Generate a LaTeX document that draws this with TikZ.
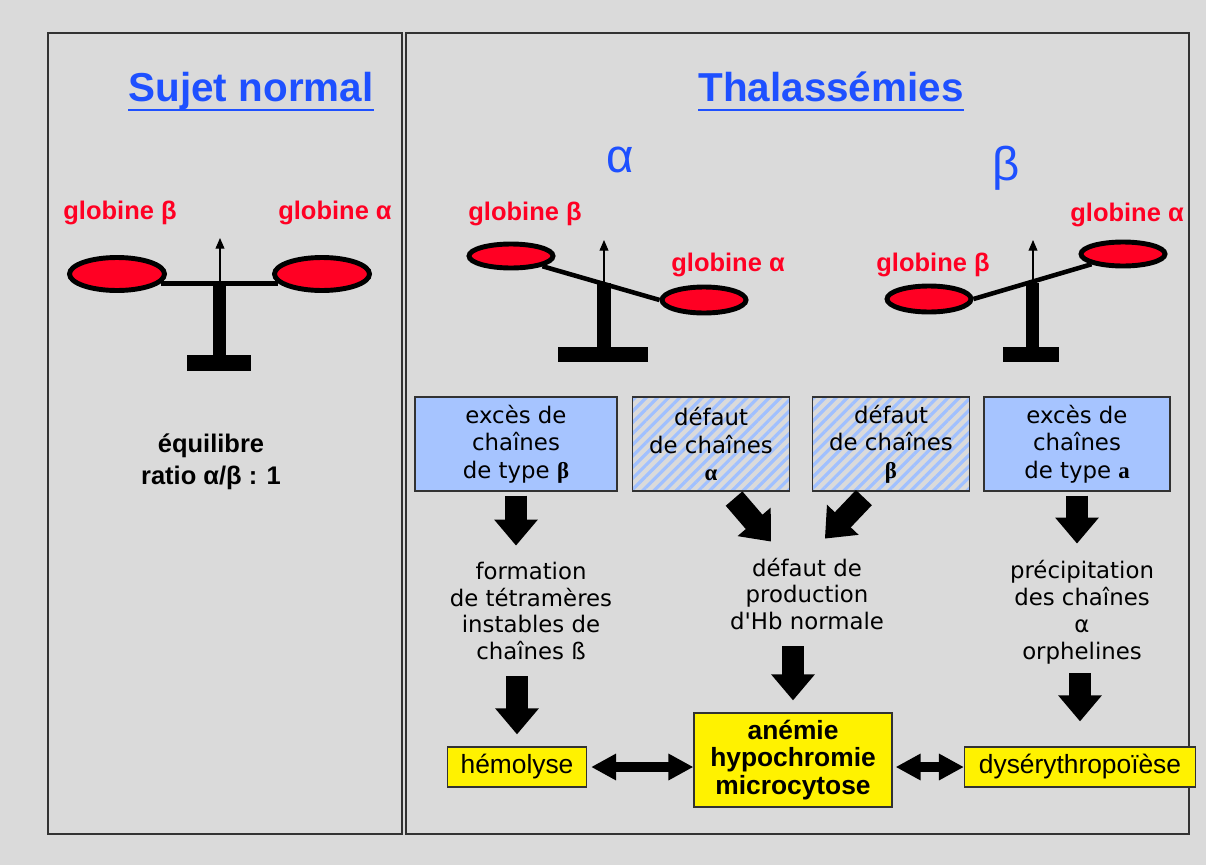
\documentclass[tikz,border=0pt]{standalone}
\usepackage{fontspec}
\setmainfont{Liberation Sans}
\newfontfamily\dvsans{DejaVu Sans}
\newfontfamily\libserif{Liberation Serif}
\usetikzlibrary{arrows.meta, shapes.geometric, patterns.meta, calc, positioning}

\definecolor{bggray}{RGB}{218,218,218}
\definecolor{framegray}{RGB}{50,50,50}
\definecolor{titleblue}{RGB}{30,80,255}
\definecolor{globred}{RGB}{255,0,35}
\definecolor{boxblue}{RGB}{166,196,255}
\definecolor{hatchblue}{RGB}{160,192,255}

\tikzset{
  panel/.style={draw=framegray, line width=1pt, fill=bggray},
  ttl/.style={font=\bfseries\fontsize{23}{27}\selectfont, text=titleblue, inner sep=0pt, anchor=base},
  greek/.style={font=\fontsize{27}{30}\selectfont, text=titleblue},
  glob/.style={font=\bfseries\fontsize{14.5}{17}\selectfont, text=globred},
  pan/.style={ellipse, draw=black, line width=2.8pt, fill=globred, inner sep=0pt},
  bigpan/.style={pan, minimum width=1.9cm, minimum height=0.66cm},
  smallpan/.style={pan, minimum width=1.68cm, minimum height=0.48cm},
  beam/.style={line width=2.6pt},
  pointer/.style={line width=0.6pt, -{Triangle[width=5pt,length=6pt]}},
  chainbox/.style={draw=framegray, line width=0.7pt, minimum height=1.88cm, align=center,
    font=\dvsans\fontsize{13}{15.6}\selectfont},
  excess/.style={chainbox, fill=boxblue},
  deficit/.style={chainbox, pattern={Lines[angle=45,distance=4.5pt,line width=1.8pt]}, pattern color=hatchblue},
  effect/.style={align=center, font=\dvsans\fontsize{13}{15.3}\selectfont},
  result/.style={draw=framegray, fill=yellow, line width=0.7pt, align=center, inner sep=1pt,
    font=\fontsize{15}{15.5}\selectfont},
  bigarrow/.style={line width=0.44cm, -{Triangle[width=0.84cm,length=0.52cm]}},
  dblarrow/.style={line width=0.2cm, {Triangle[width=0.5cm,length=0.5cm]}-{Triangle[width=0.5cm,length=0.5cm]}},
}

\begin{document}
\begin{tikzpicture}[x=0.02cm, y=-0.02cm]
  \fill[bggray] (0,0) rectangle (1206,865);
  \useasboundingbox (0,0) rectangle (1206,865);

  % panels
  \draw[panel] (48,33) rectangle (402,834);
  \draw[panel] (406,33) rectangle (1189,834);

  % titles
  \node[ttl] (sn) at (251,102) {Sujet normal};
  \node[ttl] (th) at (831,102) {Thalassémies};
  \draw[titleblue, line width=1.7pt] ($(sn.base west)+(0,8)$) -- ($(sn.base east)+(0,8)$);
  \draw[titleblue, line width=1.7pt] ($(th.base west)+(0,8)$) -- ($(th.base east)+(0,8)$);
  \node[greek] (ga) at (620,160) {α};
  \node[greek] (gb) at (1006,168) {β};

  % balance: sujet normal
  \node[glob] (nlb) at (120,213) {globine β};
  \node[glob] (nla) at (335,213) {globine α};
  \fill (213,285) rectangle (226,355);
  \fill (187,355) rectangle (251,371);
  \draw[pointer] (220,283) -- (220,238);
  \node[bigpan] (nl) at (117,274) {};
  \node[bigpan] (nr) at (322,274) {};
  \draw[beam] (nl.-12) -- (nr.192);
  \node[font=\bfseries\fontsize{14.5}{18}\selectfont, align=center] (eq) at (211,462) {équilibre\\ratio α/β : 1};

  % balance: alpha
  \node[glob] (alb) at (525,214) {globine β};
  \node[glob] (ala) at (728,265) {globine α};
  \fill (597,283) rectangle (611,347);
  \fill (558,347) rectangle (648,362);
  \draw[pointer] (604,283) -- (604,240);
  \node[smallpan] (al) at (511,256) {};
  \node[smallpan, minimum height=0.52cm] (ar) at (704,300) {};
  \draw[beam] (al.south east) -- (ar.west);

  % balance: beta
  \node[glob] (blb) at (933,265) {globine β};
  \node[glob] (bla) at (1127,215) {globine α};
  \fill (1026,283) rectangle (1039,347);
  \fill (1003,347) rectangle (1059,362);
  \draw[pointer] (1033,283) -- (1033,240);
  \node[smallpan, minimum height=0.52cm] (bl) at (929,299) {};
  \node[smallpan] (br) at (1123,254) {};
  \draw[beam] (bl.east) -- (br.south west);

  % chain boxes
  \node[excess, minimum width=4.04cm] (ex1) at (516,444) {excès de\\chaînes\\de type {\libserif\bfseries β}};
  \node[deficit, minimum width=3.14cm] (df2) at (711,444) {défaut\\de chaînes\\{\libserif\bfseries α}};
  \node[deficit, minimum width=3.14cm] (df3) at (891,444) {défaut\\de chaînes\\{\libserif\bfseries β}};
  \node[excess, minimum width=3.72cm] (ex4) at (1077,444) {excès de\\chaînes\\de type {\libserif\bfseries a}};

  % consequences
  \node[effect] (form) at (531,611) {formation\\de tétramères\\instables de\\chaînes ß};
  \node[effect] (prod) at (807,594) {défaut de\\production\\d'Hb normale};
  \node[effect] (prec) at (1082,612) {précipitation\\des chaînes\\α\\orphelines};

  \node[result, minimum width=2.78cm, minimum height=0.8cm] (hemo) at (517,767) {hémolyse};
  \node[result, minimum width=3.96cm, minimum height=1.88cm, font=\bfseries\fontsize{15}{15.5}\selectfont] (anem) at (793,760) {anémie\\hypochromie\\microcytose};
  \node[result, minimum width=4.62cm, minimum height=0.8cm] (dys) at (1080,767) {dysérythropoïèse};

  % arrows
  \draw[bigarrow] ([yshift=-0.08cm]ex1.south) -- ++(0,50);
  \draw[bigarrow] ([yshift=-0.08cm]ex4.south) -- ++(0,48);
  \draw[bigarrow] (df2.south east) ++(-57,6) -- ++(37,43);
  \draw[bigarrow] (df3.south west) ++(52,6) -- ++(-39,41);
  \draw[bigarrow, shorten <=0.2cm, shorten >=0.24cm] (form.south -| hemo) -- (hemo.north);
  \draw[bigarrow, shorten <=0.2cm, shorten >=0.24cm] (prod.south -| anem) -- (anem.north);
  \draw[bigarrow, shorten <=0.06cm, shorten >=0.5cm] (prec.south -| dys) -- (dys.north);
  \draw[dblarrow] ([xshift=0.08cm]hemo.east) -- (hemo.east -| anem.west);
  \draw[dblarrow] ([xshift=0.06cm]anem.east |- dys.west) -- (dys.west);
\end{tikzpicture}
\end{document}
